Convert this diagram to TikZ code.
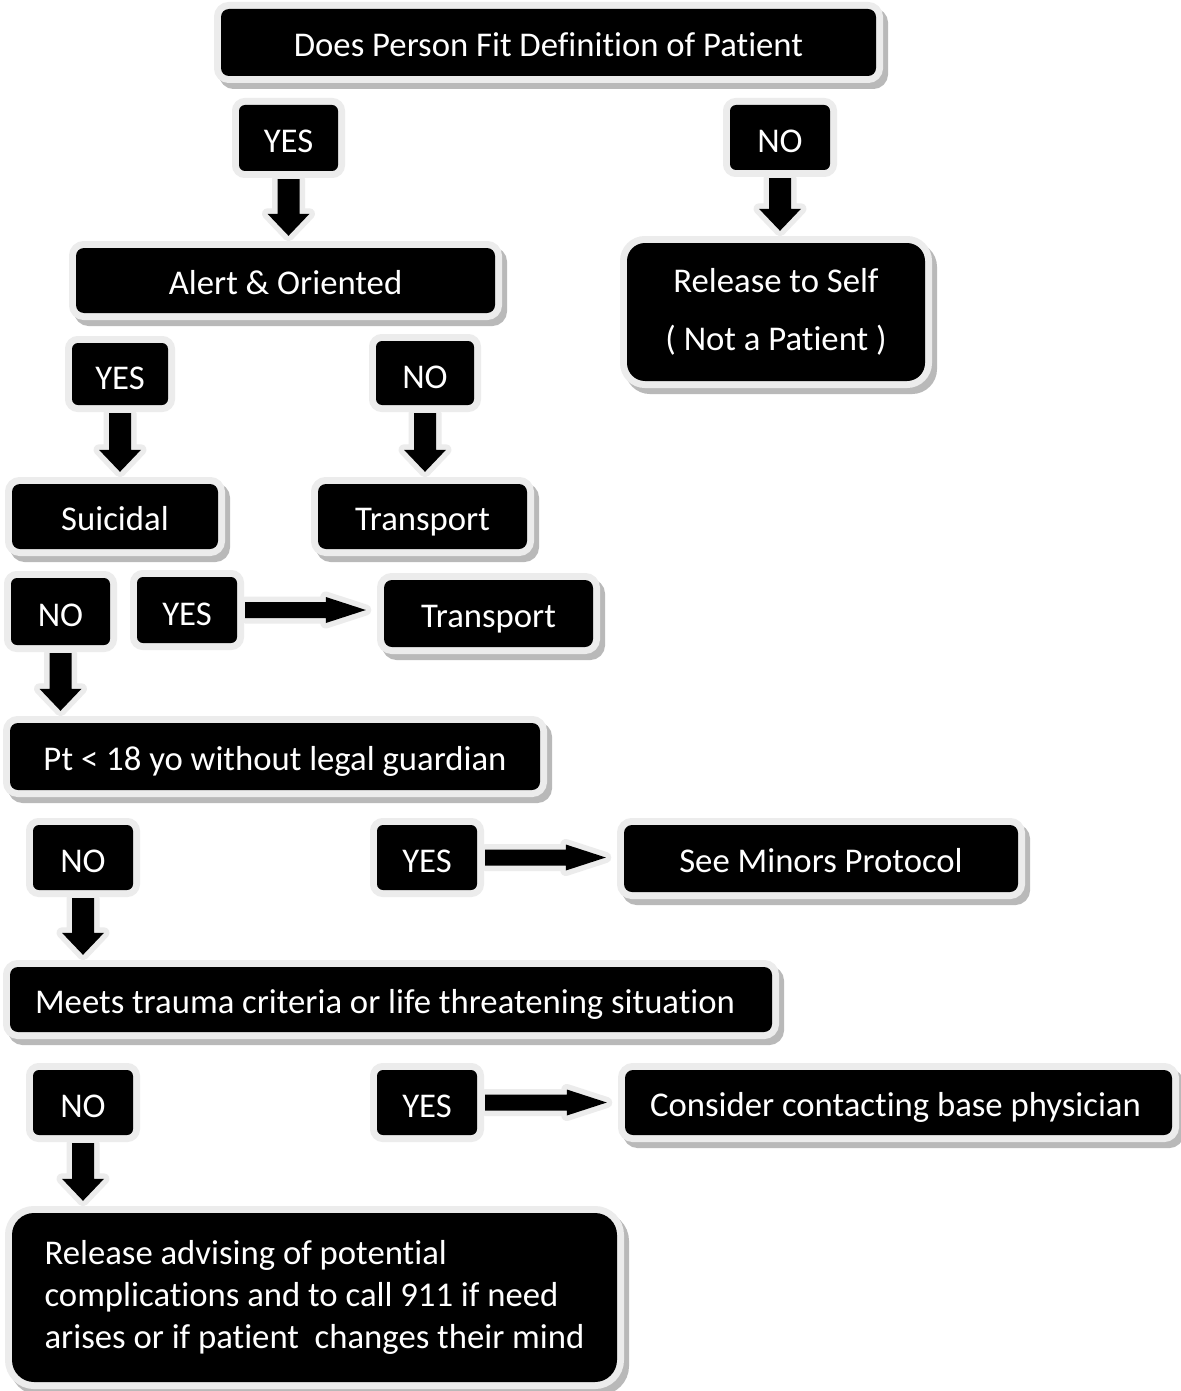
\documentclass[tikz,border=0pt]{standalone}
\usepackage{fontspec}
\setmainfont{Carlito}[Ligatures=NoCommon]
\usetikzlibrary{calc}
\definecolor{boxgray}{RGB}{236,236,236}
\definecolor{shadowgray}{RGB}{185,185,185}
\tikzset{
 base/.style={fill=black, text=white, inner sep=0pt, font=\fontsize{34.7}{42}\selectfont},
 oneline/.style={text height=30pt, text depth=2pt},
 box/.style={base, rounded corners=#1,
   preaction={fill=shadowgray, draw=shadowgray, line width=14pt, transform canvas={shift={(5pt,-6pt)}}},
   preaction={draw=boxgray, line width=14pt}},
 box/.default=8pt,
 lbl/.style={base, text height=32pt, text depth=2pt, rounded corners=6pt, minimum width=100pt, minimum height=65pt,
   preaction={draw=boxgray, line width=14pt}},
 blk/.style={fill=black, preaction={draw=boxgray, line width=11pt, line join=round}},
}
\newcommand\vblk[2]{%
 \path[blk] let \p1=(#1.south), \p2=(#2.north) in
  ({\x1-11pt},{\y1-8pt}) -- ({\x1+11pt},{\y1-8pt}) -- ({\x1+11pt},{\y2+34pt})
  -- ({\x1+21pt},{\y2+34pt}) -- (\x1,{\y2+12pt}) -- ({\x1-21pt},{\y2+34pt})
  -- ({\x1-11pt},{\y2+34pt}) -- cycle;}
\newcommand\hblk[2]{%
 \path[blk] let \p1=(#1.east), \p2=(#2.west) in
  ({\x1+8pt},{\y1+8pt}) -- ({\x2-58pt},{\y1+8pt}) -- ({\x2-58pt},{\y1+13pt})
  -- ({\x2-18pt},\y1) -- ({\x2-58pt},{\y1-13pt}) -- ({\x2-58pt},{\y1-8pt})
  -- ({\x1+8pt},{\y1-8pt}) -- cycle;}
\begin{document}
\begin{tikzpicture}[x=1pt,y=-1pt]
\useasboundingbox[fill=white] (0,0) rectangle (1180,1391);

\node[box, oneline, minimum width=655pt, minimum height=67pt] (top) at (548.5,42.5) {Does Person Fit Definition of Patient};
\node[lbl, minimum width=99pt, minimum height=66pt] (yes1) at (288.5,138) {YES};
\node[lbl] (no1) at (780,137.5) {NO};
\node[box, oneline, minimum width=419pt, minimum height=65pt] (alert) at (285.5,280.5) {Alert \& Oriented};
\node[box=18pt, minimum width=298pt, minimum height=138pt, align=center, font=\fontsize{34.7}{58}\selectfont] (self) at (776,312) {Release to Self\\( Not a Patient )};
\node[lbl, minimum width=96pt, minimum height=62pt] (yes2) at (120,374) {YES};
\node[lbl, minimum width=98pt, minimum height=64pt] (no2) at (425,373) {NO};
\node[box, oneline, minimum width=206pt, minimum height=65pt] (suic) at (115,516.5) {Suicidal};
\node[box, oneline, minimum width=209pt, minimum height=65pt] (trans1) at (422.5,516.5) {Transport};
\node[lbl, minimum width=99pt, minimum height=67pt] (no3) at (60.5,611.5) {NO};
\node[lbl, minimum width=100pt, minimum height=66pt] (yes3) at (187,610) {YES};
\node[box, oneline, minimum width=209pt, minimum height=67pt] (trans2) at (488.5,613.5) {Transport};
\node[box, oneline, minimum width=530pt, minimum height=67pt] (minor) at (275,756.5) {Pt < 18 yo without legal guardian};
\node[lbl] (no4) at (83,857.5) {NO};
\node[lbl] (yes4) at (427,857.5) {YES};
\node[box, oneline, minimum width=394pt, minimum height=67pt] (proto) at (821,858.5) {See Minors Protocol};
\node[box, oneline, minimum width=762pt, minimum height=65pt] (trauma) at (391,999.5) {Meets trauma criteria or life threatening situation\kern12pt};
\node[lbl] (no5) at (83,1102.5) {NO};
\node[lbl] (yes5) at (427,1102.5) {YES};
\node[box, oneline, minimum width=547pt, minimum height=65pt] (base) at (898.5,1102.5) {Consider contacting base physician\kern6pt};
\node[box=22pt, minimum width=605pt, minimum height=169pt, align=left] (final) at (314.5,1297.5) {Release advising of potential\\complications and to call 911 if need\\arises or if patient\ \ changes their mind};

\vblk{yes1}{alert}
\vblk{no1}{self}
\vblk{yes2}{suic}
\vblk{no2}{trans1}
\vblk{no3}{minor}
\vblk{no4}{trauma}
\vblk{no5}{final}
\hblk{yes3}{trans2}
\hblk{yes4}{proto}
\hblk{yes5}{base}
\end{tikzpicture}
\end{document}
